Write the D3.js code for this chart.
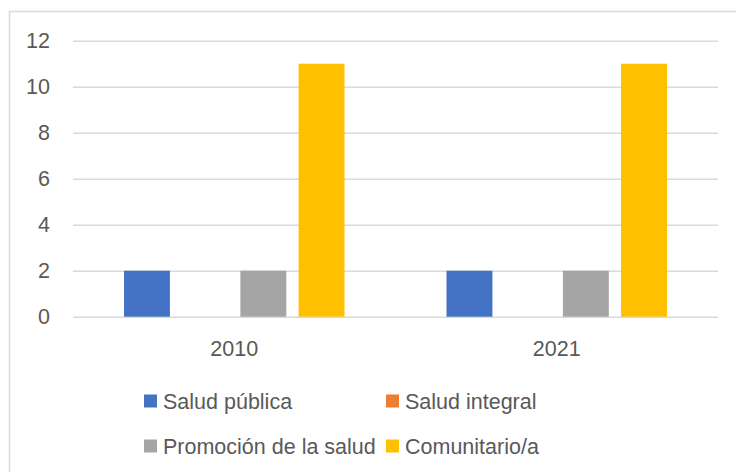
<!DOCTYPE html>
<html>
<head>
<meta charset="utf-8">
<script src="https://cdn.jsdelivr.net/npm/d3@7"></script>
<style>
  html, body { margin: 0; padding: 0; background: #fff; }
  svg { display: block; font-family: "Liberation Sans", Arial, sans-serif; }
</style>
</head>
<body>
<div id="chart"></div>
<script>
// data
const years = ["2010", "2021"];
const seriesNames = ["Salud pública", "Salud integral", "Promoción de la salud", "Comunitario/a"];
const seriesColors = ["#4472C4", "#ED7D31", "#A5A5A5", "#FFC000"];
const saludPublica = [2, 2];
const saludIntegral = [0, 0];
const promocion = [2, 2];
const comunitario = [11, 11];
const yTicks = [0, 2, 4, 6, 8, 10, 12];

const seriesValues = [saludPublica, saludIntegral, promocion, comunitario];

const W = 736, H = 472;
const MARGIN = { LEFT: 73, RIGHT: 18, TOP: 40.7, BOTTOM: 155.3 };
const WIDTH = W - MARGIN.LEFT - MARGIN.RIGHT;
const HEIGHT = H - MARGIN.TOP - MARGIN.BOTTOM;
const TEXT = "#595959";
const GRID = "#d9d9d9";
const FONT_SIZE = "21.5px";

const svg = d3.select("#chart").append("svg")
  .attr("width", W)
  .attr("height", H);

// chart frame (runs off right and bottom edges)
svg.append("rect")
  .attr("x", 9.5).attr("y", 11.5)
  .attr("width", 760).attr("height", 500)
  .attr("fill", "#fff")
  .attr("stroke", GRID)
  .attr("stroke-width", 1.5);

const g = svg.append("g")
  .attr("transform", `translate(${MARGIN.LEFT}, ${MARGIN.TOP})`);

// Scales
const x0 = d3.scaleBand().domain(years).range([0, WIDTH]).padding(0);
const x1 = d3.scaleBand().domain(seriesNames)
  .range([51, x0.bandwidth() - 51])
  .paddingInner(0.211).paddingOuter(0);
const y = d3.scaleLinear().domain([0, 12]).range([HEIGHT, 0]);

// Y axis with gridlines
const yAxis = g.append("g")
  .call(d3.axisLeft(y).tickValues(yTicks).tickSize(-WIDTH).tickPadding(23));
yAxis.select(".domain").remove();
yAxis.selectAll(".tick line").attr("stroke", GRID).attr("stroke-width", 1.4);
yAxis.selectAll(".tick text")
  .attr("fill", TEXT)
  .attr("font-size", FONT_SIZE)
  .attr("font-family", "Liberation Sans, Arial, sans-serif");

// X axis
const xAxis = g.append("g")
  .attr("transform", `translate(0, ${HEIGHT})`)
  .call(d3.axisBottom(x0).tickSize(0).tickPadding(24));
xAxis.select(".domain").remove();
xAxis.selectAll(".tick text")
  .attr("fill", TEXT)
  .attr("font-size", FONT_SIZE)
  .attr("font-family", "Liberation Sans, Arial, sans-serif");

// Bars
const rows = [];
years.forEach((yr, i) => {
  seriesNames.forEach((s, j) => {
    rows.push({ year: yr, series: s, value: seriesValues[j][i], color: seriesColors[j] });
  });
});

g.append("g").selectAll("rect")
  .data(rows)
  .join("rect")
  .attr("x", d => x0(d.year) + x1(d.series))
  .attr("y", d => y(d.value))
  .attr("width", x1.bandwidth())
  .attr("height", d => y(0) - y(d.value))
  .attr("fill", d => d.color);

// Legend (2 x 2)
const legendCols = [144, 386];
const legendRows = [401, 446];
const legend = svg.append("g").selectAll("g")
  .data(seriesNames)
  .join("g")
  .attr("transform", (d, i) => `translate(${legendCols[i % 2]}, ${legendRows[Math.floor(i / 2)]})`);

legend.append("rect")
  .attr("x", 0).attr("y", -6.5)
  .attr("width", 13).attr("height", 13)
  .attr("fill", (d, i) => seriesColors[i]);

legend.append("text")
  .attr("x", 19).attr("y", 7.5)
  .attr("fill", TEXT)
  .attr("font-size", FONT_SIZE)
  .text(d => d);
</script>
</body>
</html>
